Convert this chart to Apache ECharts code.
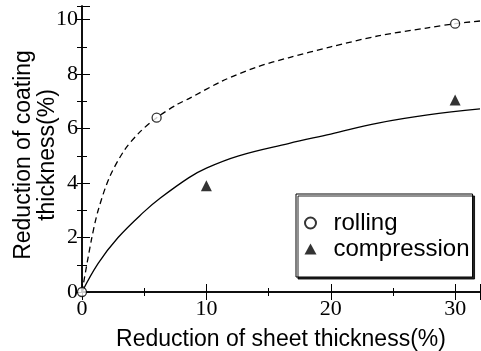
<!DOCTYPE html>
<html>
<head>
<meta charset="utf-8">
<script src="https://cdn.jsdelivr.net/npm/echarts@6/dist/echarts.min.js"></script>
<style>
  html, body { margin: 0; padding: 0; background: #fff; }
  #main { width: 481px; height: 351px; }
</style>
</head>
<body>
<div id="main"></div>
<script>
// measured points (x = reduction of sheet thickness %, y = reduction of coating thickness %)
var rollingPts = [[0, 0], [6, 6.4], [30, 9.85]];
var compressionPts = [[10, 3.9], [30, 7.05]];
// fitted curves
var rollingCurve = [[0, 0], [0.75, 1.9], [1.3, 3.0], [2.2, 4.2], [3.4, 5.2], [4.6, 5.85], [6, 6.4],
  [7.7, 6.9], [8.6, 7.1], [11.3, 7.75], [14, 8.25], [16.6, 8.6], [20, 9.0], [23.8, 9.4],
  [27.8, 9.7], [30, 9.85], [32, 9.95]];
var compressionCurve = [[0, 0], [1.3, 1.05], [2.9, 2.0], [5, 2.95], [6.3, 3.45], [8.6, 4.2], [10, 4.55],
  [12.6, 5.0], [16.6, 5.45], [20, 5.8], [23.8, 6.2], [27.8, 6.5], [32, 6.72]];
var xTicks = [0, 10, 20, 30];
var yTicks = [0, 2, 4, 6, 8, 10];

var chart = echarts.init(document.getElementById('main'));
var serif = 'Liberation Serif';
var sans = 'Liberation Sans';
var axisLine = { show: true, lineStyle: { color: '#000', width: 1.5 } };

var option = {
    animation: false,
    backgroundColor: '#fff',
    grid: { left: 82, right: 1, top: 6, bottom: 59, containLabel: false, outerBoundsMode: 'none' },
    legend: {
        orient: 'vertical',
        left: 296,
        top: 194,
        padding: [17, 3, 16, 8],
        itemWidth: 12,
        itemHeight: 11,
        itemGap: 2,
        backgroundColor: '#fff',
        borderColor: '#000',
        borderWidth: 1,
        shadowColor: 'rgba(0,0,0,0.85)',
        shadowBlur: 0,
        shadowOffsetX: 2,
        shadowOffsetY: 2,
        textStyle: { fontFamily: sans, fontSize: 24, color: '#000', lineHeight: 22, padding: [0, 0, 0, 12] },
        data: ['rolling', 'compression']
    },
    xAxis: [
        {
            type: 'value', position: 'bottom', min: 0, max: 32, interval: 10,
            name: 'Reduction of sheet thickness(%)', nameLocation: 'middle', nameGap: 36,
            nameTextStyle: { fontFamily: sans, fontSize: 23, color: '#000' },
            axisLine: axisLine,
            axisTick: { inside: true, length: 8, lineStyle: { color: '#000' } },
            minorTick: { show: true, splitNumber: 2, length: 4, lineStyle: { color: '#000' } },
            axisLabel: {
                margin: 6, fontFamily: serif, fontSize: 22, color: '#000',
                formatter: function (v) { return xTicks.indexOf(v) >= 0 ? String(v) : ''; }
            },
            splitLine: { show: false }
        },
        {
            type: 'value', position: 'top', min: 0, max: 32, interval: 10,
            axisLine: axisLine,
            axisTick: { inside: true, length: 8, lineStyle: { color: '#000' } },
            minorTick: { show: true, splitNumber: 2, length: 4, lineStyle: { color: '#000' } },
            axisLabel: { show: false },
            splitLine: { show: false }
        }
    ],
    yAxis: [
        {
            type: 'value', position: 'left', min: 0, max: 10.5, interval: 2,
            name: 'Reduction of coating\nthickness(%)', nameLocation: 'middle', nameGap: 22,
            nameRotate: 90, nameMoveOverlap: false,
            nameTextStyle: { fontFamily: sans, fontSize: 23, color: '#000', lineHeight: 24, padding: [0, 12, 0, 0] },
            axisLine: axisLine,
            axisTick: { inside: true, length: 8, lineStyle: { color: '#000' } },
            minorTick: { show: true, splitNumber: 2, length: 5, lineStyle: { color: '#000' } },
            axisLabel: {
                margin: 4, fontFamily: serif, fontSize: 22, color: '#000',
                formatter: function (v) { return yTicks.indexOf(v) >= 0 ? String(v) : ''; }
            },
            splitLine: { show: false }
        },
        {
            type: 'value', position: 'right', min: 0, max: 10.5, interval: 1,
            axisLine: axisLine,
            axisTick: { inside: true, length: 5, lineStyle: { color: '#000' } },
            axisLabel: { show: false },
            splitLine: { show: false }
        }
    ],
    series: [
        {
            name: 'rollingFit', type: 'line', data: rollingCurve, smooth: 0.3,
            showSymbol: false, symbol: 'none',
            lineStyle: { color: '#000', width: 1.3, type: [6, 4] },
            z: 2
        },
        {
            name: 'compressionFit', type: 'line', data: compressionCurve, smooth: 0.4,
            showSymbol: false, symbol: 'none',
            lineStyle: { color: '#000', width: 1.3 },
            z: 2
        },
        {
            name: 'rolling', type: 'scatter', data: rollingPts,
            symbol: 'circle', symbolSize: 9,
            itemStyle: { color: '#fff', borderColor: '#000', borderWidth: 1.3 },
            z: 4
        },
        {
            name: 'compression', type: 'scatter', data: compressionPts,
            symbol: 'triangle', symbolSize: 11,
            itemStyle: { color: '#000' },
            z: 4
        }
    ]
};

chart.setOption(option);
window.addEventListener('resize', function () { chart.resize(); });
</script>
</body>
</html>
